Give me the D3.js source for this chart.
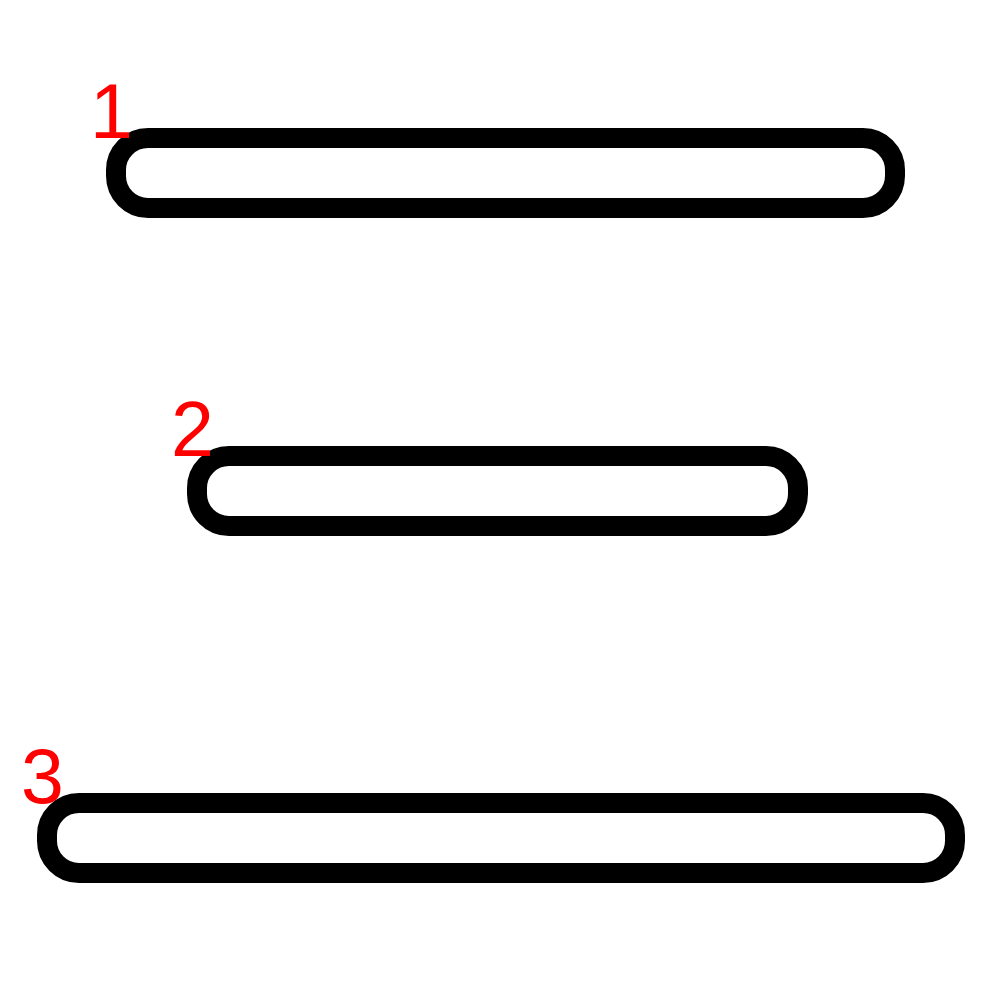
<!DOCTYPE html>
<html>
<head>
<meta charset="utf-8">
<title>Bars</title>
<script src="https://cdn.jsdelivr.net/npm/d3@7"></script>
<style>
  html, body { margin: 0; padding: 0; background: #fff; }
</style>
</head>
<body>
<div id="chart"></div>
<script>
// data
const labels = ["1", "2", "3"];
const starts = [116, 197, 47];
const ends = [895, 798, 955];
const rows = [138, 456, 803];

const w = 1000, h = 1000;

const svg = d3.select("#chart").append("svg")
    .attr("width", w)
    .attr("height", h);

// identity-ish scales over the page
const xScale = d3.scaleLinear().domain([0, 1000]).range([0, w]);
const yScale = d3.scaleLinear().domain([0, 1000]).range([0, h]);

const bars = labels.map(function(d, i) {
  return { label: d, x0: starts[i], x1: ends[i], y: rows[i] };
});

// rounded bars
svg.selectAll("rect")
    .data(bars).enter()
    .append("rect")
    .attr("x", function(d){ return xScale(d.x0); })
    .attr("y", function(d){ return yScale(d.y); })
    .attr("width", function(d){ return xScale(d.x1) - xScale(d.x0); })
    .attr("height", 70)
    .attr("rx", 32)
    .attr("ry", 32)
    .style("fill", "none")
    .style("stroke", "black")
    .style("stroke-width", 20);

// labels at the top left corner
svg.selectAll("text")
    .data(bars).enter()
    .append("text")
    .text(function(d){ return d.label; })
    .attr("x", function(d){ return xScale(d.x0) - 26; })
    .attr("y", function(d){ return yScale(d.y); })
    .style("fill", "red")
    .style("font-family", "'Liberation Sans', Arial, Helvetica, sans-serif")
    .style("font-size", "77px");
</script>
</body>
</html>
